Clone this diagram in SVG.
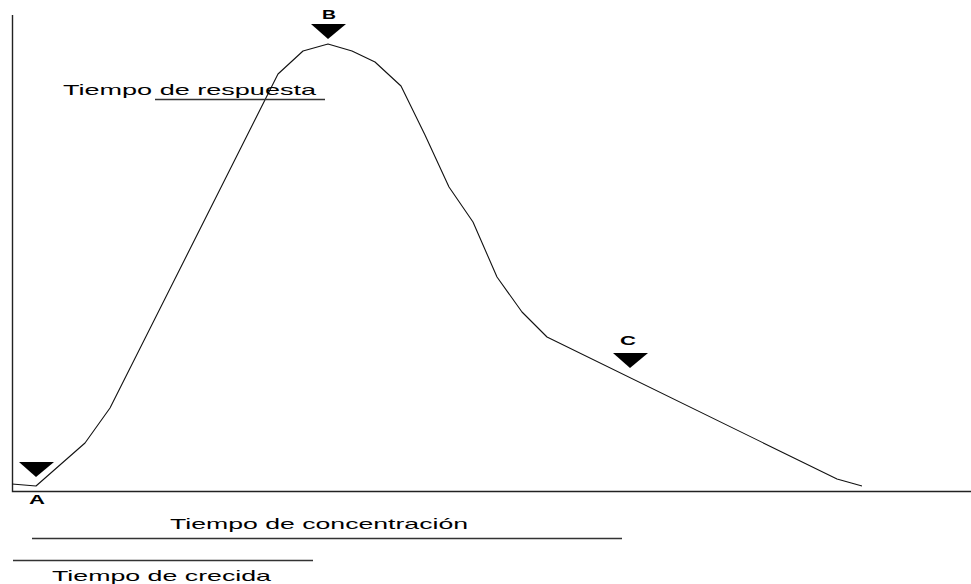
<svg xmlns="http://www.w3.org/2000/svg" width="971" height="584" viewBox="0 0 971 584">
<style>
.ax{stroke:#222;stroke-width:1.4;fill:none}
.cv{stroke:#111;stroke-width:1.1;fill:none;stroke-linejoin:round}
.ln{stroke:#333;stroke-width:1.3}
.tri{fill:#000}
.t{font-family:"Liberation Sans",Arial,sans-serif;font-size:15px;fill:#000}
.lb{font-family:"Liberation Sans",Arial,sans-serif;font-size:12px;font-weight:bold;fill:#000;text-anchor:middle}
</style>
<rect width="971" height="584" fill="#fff"/>
<g id="axes">
<path class="ax" d="M12.5 15 V491.5 H971"/>
</g>
<g id="connectors">
<polyline class="cv" points="12,484 36,486 85,443 110,408 278,74 303,51 328,44 352,51 375,62 401,86 425,135 449,187 473,222 497,277 522,312 547,337 837,479 862,486"/>
</g>
<g id="A">
<polygon class="tri" points="19,462 54,462 36,477"/>
<text class="lb" x="37" y="504" textLength="16" lengthAdjust="spacingAndGlyphs">A</text>
</g>
<g id="B">
<polygon class="tri" points="311,24 346,24 328,39"/>
<text class="lb" x="329" y="19" textLength="14" lengthAdjust="spacingAndGlyphs">B</text>
</g>
<g id="C">
<polygon class="tri" points="613,353 648,353 630,368"/>
<text class="lb" x="628" y="345" textLength="16" lengthAdjust="spacingAndGlyphs">C</text>
</g>
<g id="respuesta">
<text class="t" x="63" y="95" textLength="253" lengthAdjust="spacingAndGlyphs">Tiempo de respuesta</text>
<line class="ln" x1="155" y1="99.5" x2="325" y2="99.5"/>
</g>
<g id="concentracion">
<text class="t" x="170" y="529" textLength="298" lengthAdjust="spacingAndGlyphs">Tiempo de concentración</text>
<line class="ln" x1="32" y1="538.5" x2="622" y2="538.5"/>
</g>
<g id="crecida">
<line class="ln" x1="13" y1="560.5" x2="313" y2="560.5"/>
<text class="t" x="52" y="581" textLength="219" lengthAdjust="spacingAndGlyphs">Tiempo de crecida</text>
</g>
</svg>
